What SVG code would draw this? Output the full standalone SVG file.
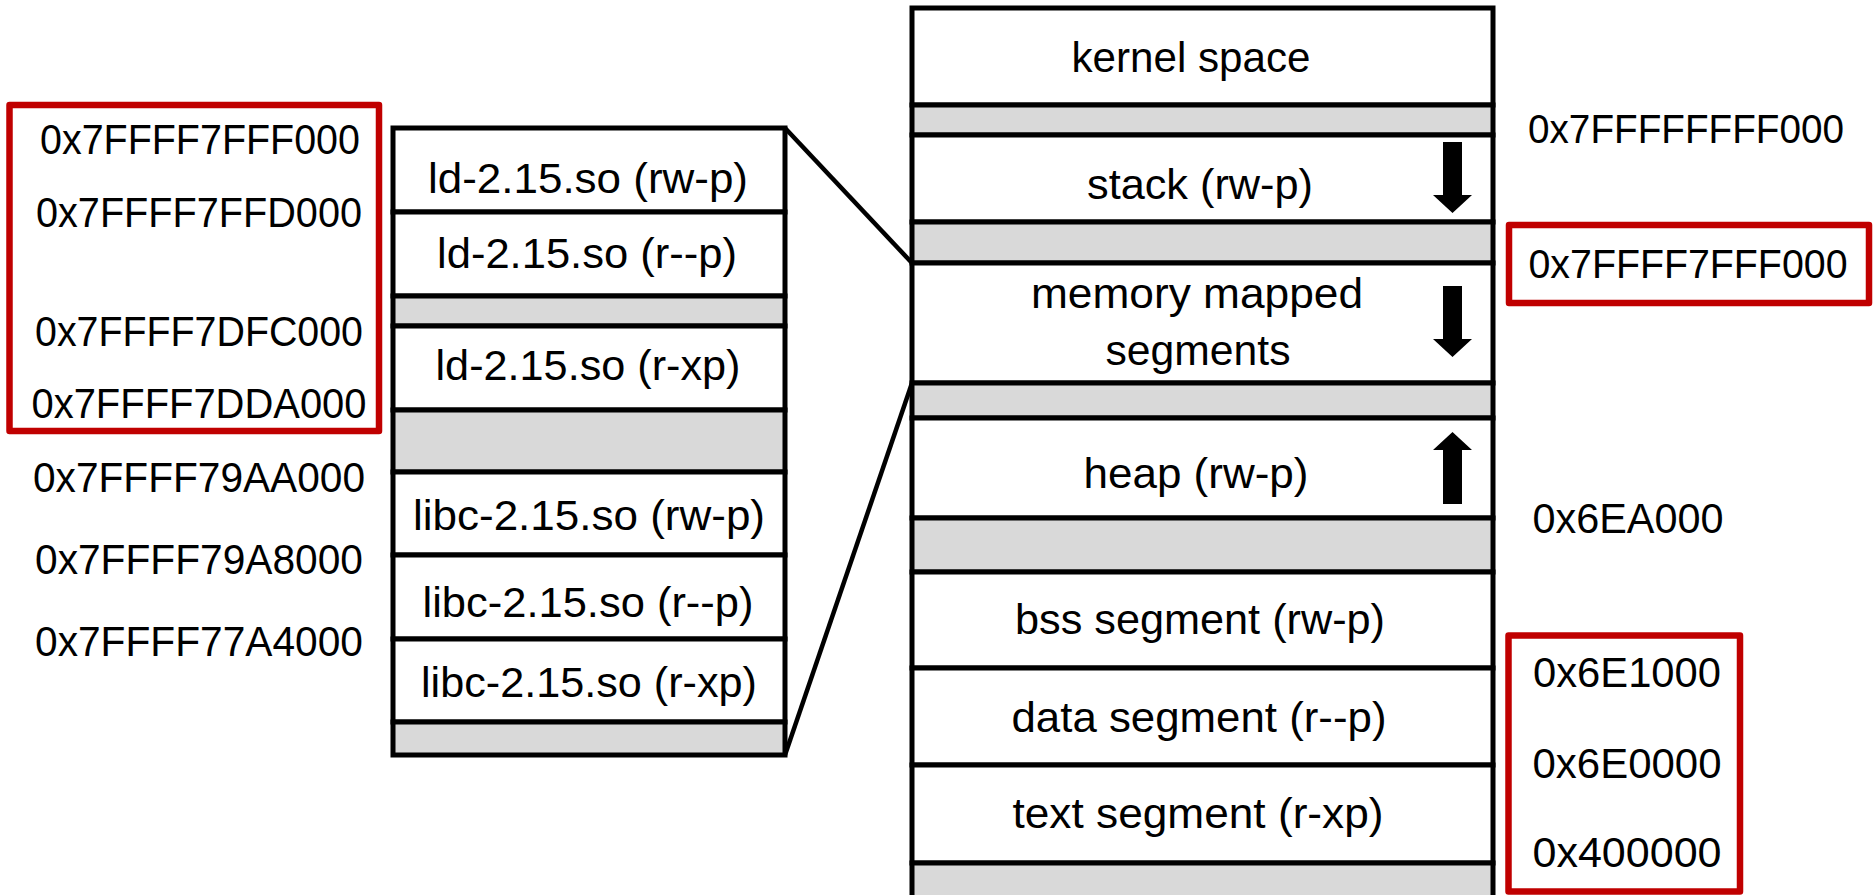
<svg xmlns="http://www.w3.org/2000/svg" width="1873" height="895" viewBox="0 0 1873 895">
  <style>
    text { font-family: "Liberation Sans", Arial, sans-serif; font-size: 43px; fill: #000; text-anchor: middle; }
    .edge { font-size: 40px; }
    .cell { fill: #ffffff; stroke: #000; stroke-width: 5; }
    .gap { fill: #d9d9d9; stroke: #000; stroke-width: 5; }
    .hl { fill: none; stroke: #c00000; stroke-width: 6.5; stroke-linejoin: round; }
    .link { fill: none; stroke: #000; stroke-width: 4.5; }
    .arrow { fill: #000; }
  </style>

  <!-- ld.so / libc address labels, the ld.so range boxed -->
  <g id="lib-addresses">
    <rect class="hl" x="9.5" y="105" width="369.5" height="326"/>
    <text x="200" y="154" textLength="320" lengthAdjust="spacingAndGlyphs">0x7FFFF7FFF000</text>
    <text x="199" y="227" textLength="326" lengthAdjust="spacingAndGlyphs">0x7FFFF7FFD000</text>
    <text x="199" y="346" textLength="328" lengthAdjust="spacingAndGlyphs">0x7FFFF7DFC000</text>
    <text x="199" y="418" textLength="335" lengthAdjust="spacingAndGlyphs">0x7FFFF7DDA000</text>
    <text x="199" y="492" textLength="332" lengthAdjust="spacingAndGlyphs">0x7FFFF79AA000</text>
    <text x="199" y="574" textLength="328" lengthAdjust="spacingAndGlyphs">0x7FFFF79A8000</text>
    <text x="199" y="656" textLength="328" lengthAdjust="spacingAndGlyphs">0x7FFFF77A4000</text>
  </g>

  <!-- shared library mappings -->
  <g id="lib-mappings">
    <rect class="cell" x="393" y="128" width="392" height="84"/>
    <rect class="cell" x="393" y="212" width="392" height="84"/>
    <rect class="gap" x="393" y="296" width="392" height="30"/>
    <rect class="cell" x="393" y="326" width="392" height="84"/>
    <rect class="gap" x="393" y="410" width="392" height="62"/>
    <rect class="cell" x="393" y="472" width="392" height="83"/>
    <rect class="cell" x="393" y="555" width="392" height="84"/>
    <rect class="cell" x="393" y="639" width="392" height="83"/>
    <rect class="gap" x="393" y="722" width="392" height="33"/>
    <text x="588" y="193" textLength="320" lengthAdjust="spacingAndGlyphs">ld-2.15.so (rw-p)</text>
    <text x="587" y="268" textLength="300" lengthAdjust="spacingAndGlyphs">ld-2.15.so (r--p)</text>
    <text x="588" y="380" textLength="305" lengthAdjust="spacingAndGlyphs">ld-2.15.so (r-xp)</text>
    <text x="589" y="530" textLength="352" lengthAdjust="spacingAndGlyphs">libc-2.15.so (rw-p)</text>
    <text x="588" y="617" textLength="331" lengthAdjust="spacingAndGlyphs">libc-2.15.so (r--p)</text>
    <text x="589" y="697" textLength="336" lengthAdjust="spacingAndGlyphs">libc-2.15.so (r-xp)</text>
  </g>

  <!-- zoom lines from the mapped-segments region to the library detail -->
  <g id="connectors">
    <line class="link" x1="785" y1="128" x2="912" y2="263"/>
    <line class="link" x1="785" y1="755" x2="912" y2="383"/>
  </g>

  <!-- process address space -->
  <g id="address-space">
    <rect class="cell" x="912" y="8" width="581" height="97"/>
    <rect class="gap" x="912" y="105" width="581" height="30"/>
    <rect class="cell" x="912" y="135" width="581" height="87"/>
    <rect class="gap" x="912" y="222" width="581" height="41"/>
    <rect class="cell" x="912" y="263" width="581" height="120"/>
    <rect class="gap" x="912" y="383" width="581" height="35"/>
    <rect class="cell" x="912" y="418" width="581" height="100"/>
    <rect class="gap" x="912" y="518" width="581" height="54"/>
    <rect class="cell" x="912" y="572" width="581" height="96"/>
    <rect class="cell" x="912" y="668" width="581" height="97"/>
    <rect class="cell" x="912" y="765" width="581" height="98"/>
    <rect class="gap" x="912" y="863" width="581" height="50"/>

    <text x="1191" y="72" textLength="239" lengthAdjust="spacingAndGlyphs">kernel space</text>
    <text x="1200" y="199" textLength="226" lengthAdjust="spacingAndGlyphs">stack (rw-p)</text>
    <text x="1197" y="308" textLength="332" lengthAdjust="spacingAndGlyphs">memory mapped</text>
    <text x="1198" y="365" textLength="185" lengthAdjust="spacingAndGlyphs">segments</text>
    <text x="1196" y="488" textLength="225" lengthAdjust="spacingAndGlyphs">heap (rw-p)</text>
    <text x="1200" y="634" textLength="370" lengthAdjust="spacingAndGlyphs">bss segment (rw-p)</text>
    <text x="1199" y="732" textLength="375" lengthAdjust="spacingAndGlyphs">data segment (r--p)</text>
    <text x="1198" y="828" textLength="371" lengthAdjust="spacingAndGlyphs">text segment (r-xp)</text>

    <!-- growth directions -->
    <polygon class="arrow" points="1443,142 1462,142 1462,195 1472,195 1452.5,213 1433,195 1443,195"/>
    <polygon class="arrow" points="1443,286 1462,286 1462,339 1472,339 1452.5,357 1433,339 1443,339"/>
    <polygon class="arrow" points="1443,504 1462,504 1462,450 1472,450 1452.5,432 1433,450 1443,450"/>
  </g>

  <!-- segment boundary addresses -->
  <g id="segment-addresses">
    <text class="edge" x="1686" y="143" textLength="316" lengthAdjust="spacingAndGlyphs">0x7FFFFFFFF000</text>
    <rect class="hl" x="1509" y="225" width="360" height="78"/>
    <text class="edge" x="1688" y="278" textLength="319" lengthAdjust="spacingAndGlyphs">0x7FFFF7FFF000</text>
    <text x="1628" y="533" textLength="191" lengthAdjust="spacingAndGlyphs">0x6EA000</text>
    <rect class="hl" x="1508.5" y="635.5" width="231.5" height="256"/>
    <text x="1627" y="687" textLength="188" lengthAdjust="spacingAndGlyphs">0x6E1000</text>
    <text x="1627" y="778" textLength="189" lengthAdjust="spacingAndGlyphs">0x6E0000</text>
    <text x="1627" y="867" textLength="189" lengthAdjust="spacingAndGlyphs">0x400000</text>
  </g>
</svg>
